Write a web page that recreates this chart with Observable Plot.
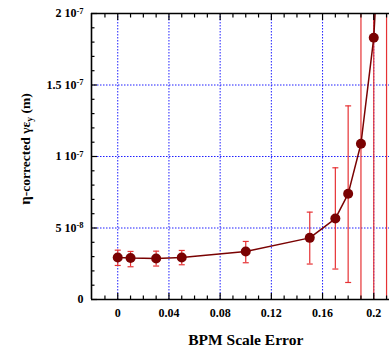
<!DOCTYPE html>
<html>
<head>
<meta charset="utf-8">
<script src="https://cdn.jsdelivr.net/npm/d3@7"></script>
<script src="https://cdn.jsdelivr.net/npm/@observablehq/plot@0.6"></script>
<style>
  html, body { margin: 0; padding: 0; background: #fff; overflow: hidden; }
</style>
</head>
<body>
<div id="chart"></div>
<script>
// ---- data ----
const scaleError = [0, 0.01, 0.03, 0.05, 0.1, 0.15, 0.17, 0.18, 0.19, 0.2, 0.21];
const emittance  = [2.94e-8, 2.90e-8, 2.87e-8, 2.94e-8, 3.36e-8, 4.31e-8, 5.66e-8, 7.39e-8, 1.089e-7, 1.83e-7, 3.5e-7];
const errHigh    = [3.45e-8, 3.36e-8, 3.38e-8, 3.43e-8, 4.06e-8, 6.11e-8, 9.21e-8, 1.354e-7, 3.0e-7, 4.0e-7, 6.0e-7];
const errLow     = [2.38e-8, 2.29e-8, 2.34e-8, 2.43e-8, 2.57e-8, 2.48e-8, 2.13e-8, 1.19e-8, -1e-7, -1e-7, -1e-7];

const xMajorTicks = [0, 0.04, 0.08, 0.12, 0.16, 0.2];
const xTickLabels = ["0", "0.04", "0.08", "0.12", "0.16", "0.2"];
const xMinorTicks = [-0.01, 0.01, 0.02, 0.03, 0.05, 0.06, 0.07, 0.09, 0.10, 0.11, 0.13, 0.14, 0.15, 0.17, 0.18, 0.19, 0.21];
const yMajorTicks = [0, 5e-8, 1e-7, 1.5e-7, 2e-7];
const yTickLabels = ["0", "5 10^-8", "1 10^-7", "1.5 10^-7", "2 10^-7"];
const yMinorTicks = [1e-8, 2e-8, 3e-8, 4e-8, 6e-8, 7e-8, 8e-8, 9e-8, 1.1e-7, 1.2e-7, 1.3e-7, 1.4e-7, 1.6e-7, 1.7e-7, 1.8e-7, 1.9e-7];
const yGrid = [5e-8, 1e-7, 1.5e-7];
const xTitle = "BPM Scale Error";

const data = scaleError.map((x, i) => ({x, y: emittance[i], hi: errHigh[i], lo: errLow[i]}));

const darkRed = "#7a0202";
const errRed = "#e63234";
const gridBlue = "#1f1fff";
const capSymbol = {draw(ctx) { ctx.moveTo(-3, 0); ctx.lineTo(3, 0); }};

const plot = Plot.plot({
  width: 389,
  height: 349,
  marginLeft: 91,
  marginRight: 0,
  marginTop: 13,
  marginBottom: 50,
  style: {fontFamily: "'Liberation Serif', 'Times New Roman', serif", fontWeight: "bold", fontSize: "12px", background: "#fff", color: "#000"},
  x: {domain: [-0.0205, 0.2123], label: null},
  y: {domain: [0, 2e-7], label: null},
  marks: [
    // grid
    Plot.ruleX(xMajorTicks, {stroke: gridBlue, strokeWidth: 1, strokeDasharray: "1.5,1.5"}),
    Plot.ruleY(yGrid, {stroke: gridBlue, strokeWidth: 1, strokeDasharray: "1.5,1.5"}),
    // error bars
    Plot.ruleX(data, {x: "x", y1: "lo", y2: "hi", stroke: errRed, strokeWidth: 1.2, clip: true}),
    Plot.dot(data, {x: "x", y: "hi", symbol: capSymbol, stroke: errRed, strokeWidth: 1.2, fill: "none", clip: true}),
    Plot.dot(data, {x: "x", y: "lo", symbol: capSymbol, stroke: errRed, strokeWidth: 1.2, fill: "none", clip: true}),
    // line and points
    Plot.line(data, {x: "x", y: "y", stroke: darkRed, strokeWidth: 1.5, clip: true}),
    Plot.dot(data, {x: "x", y: "y", r: 5, fill: darkRed, stroke: "none", clip: true}),
    // frame (left, top, bottom)
    Plot.ruleX([-0.0205], {stroke: "#000", strokeWidth: 1.6}),
    Plot.ruleY([0, 2e-7], {stroke: "#000", strokeWidth: 1.6}),
    // axes with inward ticks
    Plot.axisX({ticks: xMajorTicks, tickSize: -6, tickPadding: 15, strokeWidth: 1.2, tickFormat: (d, i) => xTickLabels[i], label: null}),
    Plot.axisX({ticks: xMinorTicks, tickSize: -3.5, strokeWidth: 1.2, text: null, label: null}),
    Plot.axisX({anchor: "top", ticks: xMajorTicks, tickSize: -6, strokeWidth: 1.2, text: null, label: null}),
    Plot.axisX({anchor: "top", ticks: xMinorTicks, tickSize: -3.5, strokeWidth: 1.2, text: null, label: null}),
    Plot.axisY({ticks: yMajorTicks, tickSize: -6, tickPadding: 14, strokeWidth: 1.2, tickFormat: (d, i) => yTickLabels[i], label: null}),
    Plot.axisY({ticks: yMinorTicks, tickSize: -3.5, strokeWidth: 1.2, text: null, label: null}),
    // x title
    Plot.text([xTitle], {x: 0.1, frameAnchor: "bottom", dy: 41, text: d => d, fontSize: 15.5, fontWeight: "bold", lineAnchor: "middle"})
  ]
});

document.getElementById("chart").appendChild(plot);

// superscript exponents on y tick labels
d3.select(plot).selectAll('[aria-label="y-axis tick label"] text').each(function() {
  const t = d3.select(this);
  const s = t.text();
  if (s.includes("^")) {
    const [base, exp] = s.split("^");
    t.text(base);
    t.append("tspan").attr("dy", "-0.45em").attr("font-size", "8.5px").text(exp);
  }
});

// y title with subscript
const yt = d3.select(plot).append("text")
  .attr("transform", "translate(27,149) rotate(-90)")
  .attr("text-anchor", "middle")
  .attr("dominant-baseline", "middle")
  .attr("font-size", "13.5px")
  .attr("font-weight", "bold")
  .attr("fill", "#000");
yt.append("tspan").attr("font-size", "15px").text("η");
yt.append("tspan").text("-corrected γε");
yt.append("tspan").attr("dy", "4").attr("font-size", "9.5px").text("y");
yt.append("tspan").attr("dy", "-4").text(" (m)");
</script>
</body>
</html>
